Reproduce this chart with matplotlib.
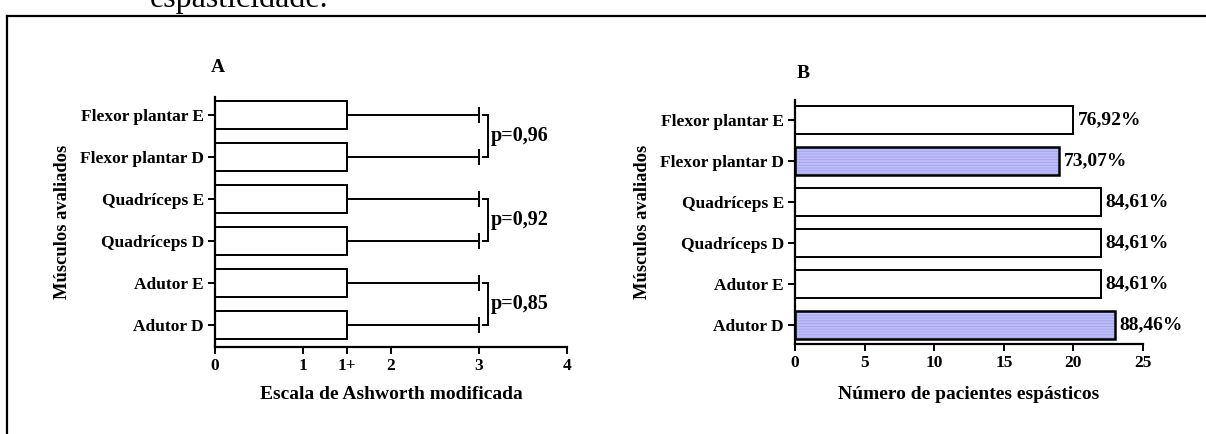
import numpy as np
import matplotlib.pyplot as plt
from matplotlib.lines import Line2D

plt.rcParams['font.family'] = ['Liberation Serif', 'DejaVu Serif']
plt.rcParams['font.weight'] = 'bold'
plt.rcParams['hatch.linewidth'] = 0.6

# musculos, de baixo para cima
musculos = ['Adutor D', 'Adutor E', 'Quadríceps D', 'Quadríceps E',
            'Flexor plantar D', 'Flexor plantar E']

# painel A: mediana e maximo na escala de Ashworth (1+ = 1.5)
ashworth_mediana = [1.5, 1.5, 1.5, 1.5, 1.5, 1.5]
ashworth_max = [3, 3, 3, 3, 3, 3]
p_valores = ['p=0,85', 'p=0,92', 'p=0,96']
ashworth_ticks = [0, 1, 1.5, 2, 3, 4]
ashworth_rotulos = ['0', '1', '1+', '2', '3', '4']

# painel B: numero de pacientes espasticos (n=26)
n_total = 26
espasticos = [23, 22, 22, 22, 19, 20]
destaque = [True, False, False, False, True, False]

fig = plt.figure(figsize=(12.06, 4.34), dpi=100)

# moldura e texto cortado no topo
fig.add_artist(Line2D([7/1206, 7/1206], [0, 1 - 16/434], transform=fig.transFigure,
                      color='black', lw=1.6))
fig.add_artist(Line2D([7/1206, 1], [1 - 16/434, 1 - 16/434], transform=fig.transFigure,
                      color='black', lw=1.6))
fig.text(150/1206, 1 - 7/434, 'espasticidade.', fontsize=23, fontweight='normal',
         va='baseline', ha='left')

def estilo(ax):
    for s in ['top', 'right']:
        ax.spines[s].set_visible(False)
    for s in ['left', 'bottom']:
        ax.spines[s].set_linewidth(1.6)
    ax.tick_params(direction='out', length=5, width=1.4, labelsize=12.5, pad=3)
    for lbl in ax.get_xticklabels() + ax.get_yticklabels():
        lbl.set_fontweight('bold')

y = np.arange(len(musculos))

# ---- painel A
axA = fig.add_axes([215/1206, 87/434, 352/1206, 250/434])
axA.barh(y, ashworth_mediana, height=0.66, color='white', edgecolor='black', lw=1.4)
err = np.array(ashworth_max) - np.array(ashworth_mediana)
axA.errorbar(ashworth_mediana, y, xerr=[np.zeros(len(y)), err], fmt='none',
             ecolor='black', elinewidth=1.4, capsize=6, capthick=1.4)
axA.set_xlim(0, 4)
axA.set_ylim(-0.52, 5.43)
axA.set_xticks(ashworth_ticks)
axA.set_xticklabels(ashworth_rotulos)
axA.set_yticks(y)
axA.set_yticklabels(musculos)
estilo(axA)
for i, p in enumerate(p_valores):
    y0, y1 = 2 * i, 2 * i + 1
    axA.plot([3.05, 3.1, 3.1, 3.05], [y0, y0, y1, y1], color='black', lw=1.4,
             solid_joinstyle='miter')
    axA.text(3.13, (y0 + y1) / 2, p, fontsize=14.5, fontweight='bold', va='center')
axA.set_xlabel('Escala de Ashworth modificada', fontsize=14, fontweight='bold')
axA.set_ylabel('Músculos avaliados', fontsize=13.3, fontweight='bold')
axA.xaxis.set_label_coords(0.5, -0.156)
axA.yaxis.set_label_coords(-0.41, 0.5)
fig.text(211/1206, 1 - 68/434, 'A', fontsize=14, fontweight='bold', va='center')

# ---- painel B
axB = fig.add_axes([795/1206, 90/434, 348/1206, 244/434])
for yi, v, d in zip(y, espasticos, destaque):
    if d:
        axB.barh(yi, v, height=0.7, color='#bdbdf8', edgecolor='#a3a3ef',
                 hatch='------', lw=0)
        axB.barh(yi, v, height=0.7, color='none', edgecolor='black', lw=1.8)
    else:
        axB.barh(yi, v, height=0.7, color='white', edgecolor='black', lw=1.4)
    pct = f'{np.floor(v / n_total * 10000) / 100:.2f}'.replace('.', ',') + '%'
    axB.text(v + 0.3, yi, pct, fontsize=14, fontweight='bold', va='center')
axB.set_xlim(0, 25)
axB.set_ylim(-0.46, 5.49)
axB.set_xticks([0, 5, 10, 15, 20, 25])
axB.set_yticks(y)
axB.set_yticklabels(musculos)
estilo(axB)
axB.set_xlabel('Número de pacientes espásticos', fontsize=14, fontweight='bold')
axB.set_ylabel('Músculos avaliados', fontsize=13.3, fontweight='bold')
axB.xaxis.set_label_coords(0.5, -0.171)
axB.yaxis.set_label_coords(-0.415, 0.5)
fig.text(797/1206, 1 - 73/434, 'B', fontsize=14, fontweight='bold', va='center')

fig.savefig('out.png', dpi=100)
